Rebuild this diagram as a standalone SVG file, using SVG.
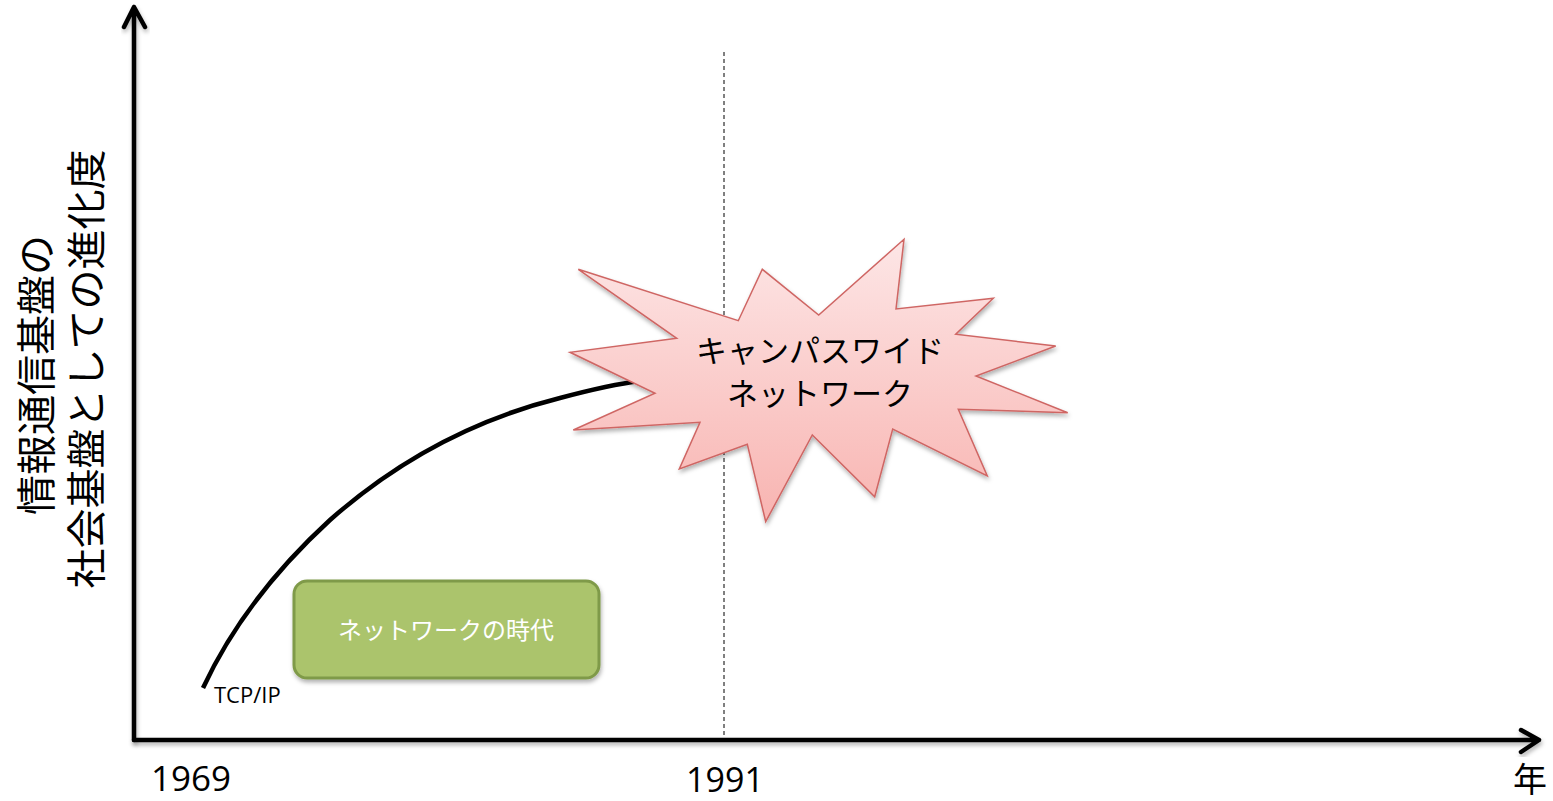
<svg xmlns="http://www.w3.org/2000/svg" width="1553" height="801" viewBox="0 0 1553 801">
<style>
.jp{font-family:"Noto Sans CJK JP","Noto Sans",sans-serif;}
.num{font-family:"Open Sans","Liberation Sans",sans-serif;fill:#000;}
.axis{stroke:#000;stroke-width:4.5;fill:none;stroke-linecap:round;stroke-linejoin:round;}
</style>
<defs>
<linearGradient id="pink" x1="0" y1="0" x2="0" y2="1">
<stop offset="0" stop-color="#fde6e6"/>
<stop offset="1" stop-color="#f8b4b1"/>
</linearGradient>
<filter id="sh" x="-10%" y="-10%" width="130%" height="130%">
<feDropShadow dx="1" dy="3" stdDeviation="2" flood-color="#000" flood-opacity="0.3"/>
</filter>
</defs>
<rect width="1553" height="801" fill="#fff"/>
<g id="connectors">
<line x1="724" y1="52" x2="724" y2="740" stroke="#000" stroke-width="1" stroke-dasharray="4,3"/>
<path class="axis" filter="url(#sh)" d="M134,740 L134,7 M124,27 L134,7 L145,27"/>
<path class="axis" filter="url(#sh)" d="M134,740 L1539,740 M1521,730 L1539,740 L1521,752"/>
<path d="M203,688 C230,630 270,575 330,520 C400,458 480,418 560,398 C590,390 615,384 640,381" fill="none" stroke="#000" stroke-width="4.5"/>
</g>
<g id="burst">
<polygon filter="url(#sh)" points="578.3,269.3 738.3,320.7 762.3,269.3 818.7,315 904,239.3 896,309 993.3,298.3 955.7,334.3 1055.7,346 976,376 1067.7,412.7 958.3,409.3 987.3,476 892.7,429 874.7,496.7 812.3,435 765.7,521.7 747.3,444.3 679.3,469 700,422.3 573.3,430 655,393.3 570,352.3 676.7,338.3" fill="url(#pink)" stroke="#cf6664" stroke-width="1.5" stroke-linejoin="miter"/>
<text class="jp" x="820" y="362" font-size="31" text-anchor="middle" fill="#000">キャンパスワイド</text>
<text class="jp" x="820" y="405" font-size="31" text-anchor="middle" fill="#000">ネットワーク</text>
</g>
<g id="era">
<rect x="294" y="581" width="305" height="97" rx="13" fill="#abc46c" stroke="#7f9a48" stroke-width="3" filter="url(#sh)"/>
<text class="jp" x="446" y="639" font-size="24" text-anchor="middle" fill="#fff">ネットワークの時代</text>
</g>
<g id="labels">
<text class="num" x="214" y="703" font-size="22">TCP/IP</text>
<text class="num" x="191" y="791" font-size="35" text-anchor="middle">1969</text>
<text class="num" x="725" y="792" font-size="34" text-anchor="middle">1991</text>
<text class="jp" x="1530" y="792" font-size="34" text-anchor="middle" fill="#000">年</text>
<text class="jp" font-size="40" text-anchor="middle" fill="#000" transform="translate(51,375) rotate(-90)">情報通信基盤の</text>
<text class="jp" font-size="40" text-anchor="middle" fill="#000" transform="translate(101,369) rotate(-90)">社会基盤としての進化度</text>
</g>
</svg>
